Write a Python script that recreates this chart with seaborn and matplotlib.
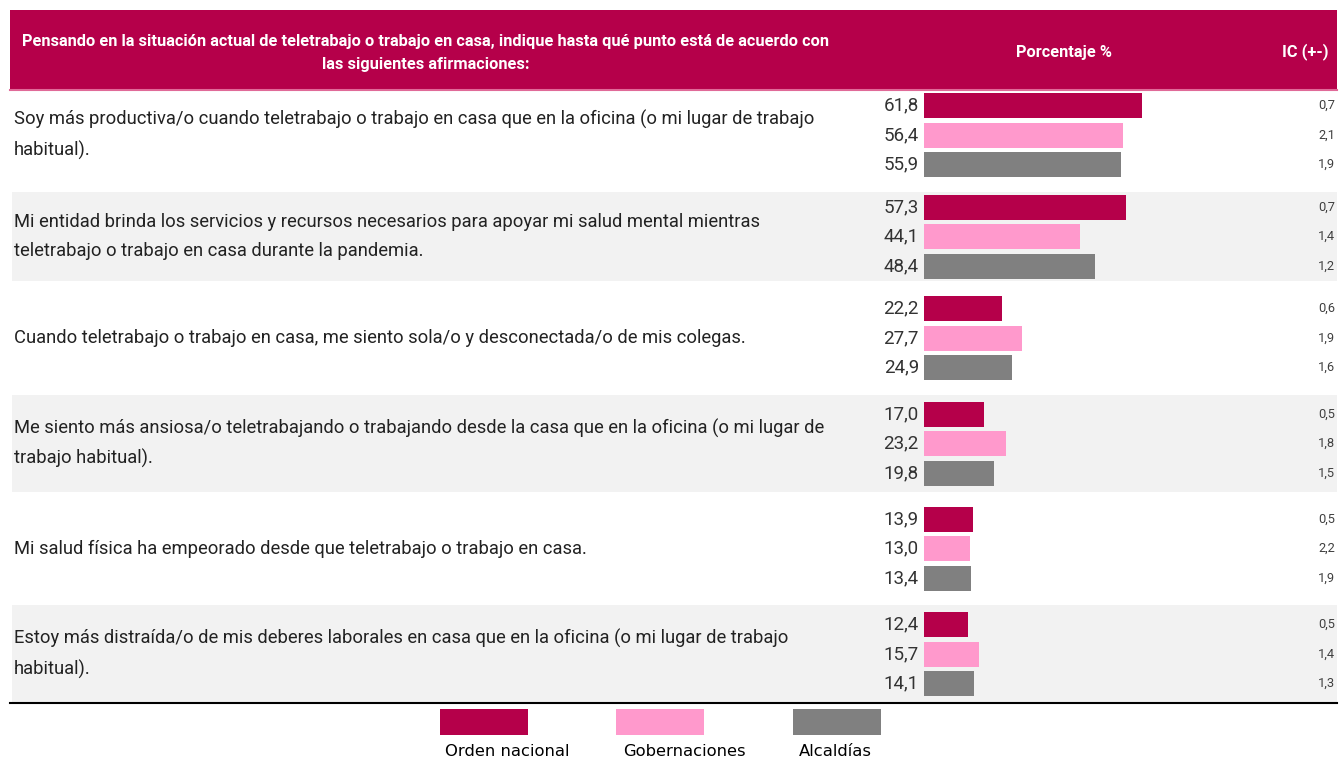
import matplotlib
matplotlib.use("Agg")
import matplotlib.pyplot as plt
import seaborn as sns
import pandas as pd
from matplotlib.patches import Rectangle

afirmaciones = [
    "Soy más productiva/o cuando teletrabajo o trabajo en casa que en la oficina (o mi lugar de trabajo\nhabitual).",
    "Mi entidad brinda los servicios y recursos necesarios para apoyar mi salud mental mientras\nteletrabajo o trabajo en casa durante la pandemia.",
    "Cuando teletrabajo o trabajo en casa, me siento sola/o y desconectada/o de mis colegas.",
    "Me siento más ansiosa/o teletrabajando o trabajando desde la casa que en la oficina (o mi lugar de\ntrabajo habitual).",
    "Mi salud física ha empeorado desde que teletrabajo o trabajo en casa.",
    "Estoy más distraída/o de mis deberes laborales en casa que en la oficina (o mi lugar de trabajo\nhabitual).",
]
series = ["Orden nacional", "Gobernaciones", "Alcaldías"]
orden_nacional = [61.8, 57.3, 22.2, 17.0, 13.9, 12.4]
gobernaciones = [56.4, 44.1, 27.7, 23.2, 13.0, 15.7]
alcaldias = [55.9, 48.4, 24.9, 19.8, 13.4, 14.1]
ic_orden_nacional = [0.7, 0.7, 0.6, 0.5, 0.5, 0.5]
ic_gobernaciones = [2.1, 1.4, 1.9, 1.8, 2.2, 1.4]
ic_alcaldias = [1.9, 1.2, 1.6, 1.5, 1.9, 1.3]

header_pregunta = ("Pensando en la situación actual de teletrabajo o trabajo en casa, indique hasta qué punto está de acuerdo con\n"
                   "las siguientes afirmaciones:")
header_pct = "Porcentaje %"
header_ic = "IC (+-)"

colors = ["#B5004A", "#FF99CC", "#808080"]
crimson = colors[0]

# layout (pixel canvas)
W, H = 1339, 757
band_edges = [90, 192, 281, 395, 492, 605, 702]
group_centres = [135, 236.5, 338, 443.5, 548.5, 654]
bar_x0 = 924
px_per_unit = 3.53
pitch = 29.5
bar_h = 25

plt.rcParams["font.family"] = ["Roboto", "DejaVu Sans"]

fig = plt.figure(figsize=(W / 100, H / 100), dpi=100)
renderer = fig.canvas.get_renderer()

bg = fig.add_axes([0, 0, 1, 1])
bg.set_xlim(0, W)
bg.set_ylim(H, 0)
bg.axis("off")


def fitted_size(sample, width, **kw):
    # font size for which `sample` is `width` pixels wide
    t = bg.text(0, 0, sample, fontsize=12, **kw)
    w = t.get_window_extent(renderer).width
    t.remove()
    return 12 * width / w


def spacing_for(size, gap, **kw):
    # linespacing giving `gap` pixels between two baselines
    a = bg.text(0, 0, "lp", fontsize=size, linespacing=1, **kw)
    b = bg.text(0, 0, "lp\nlp", fontsize=size, linespacing=1, **kw)
    d = b.get_window_extent(renderer).height - a.get_window_extent(renderer).height
    a.remove()
    b.remove()
    return gap / d


# header band
bg.add_patch(Rectangle((10, 10), W - 12, 80, color=crimson, lw=0))
bg.plot([10, W - 2], [89.5, 89.5], color="#E06A98", lw=1.5)
hsize = fitted_size(header_pregunta.split("\n")[0], 803, fontweight="bold")
bg.text(426, 53, header_pregunta, ha="center", va="center", color="white",
        fontsize=hsize, fontweight="bold",
        linespacing=spacing_for(hsize, 26, fontweight="bold"))
bg.text(1064, 52, header_pct, ha="center", va="center", color="white",
        fontsize=hsize, fontweight="bold")
bg.text(1329, 52, header_ic, ha="right", va="center", color="white",
        fontsize=hsize, fontweight="bold")

# alternating row bands
for i in range(len(afirmaciones)):
    top, bottom = band_edges[i], band_edges[i + 1]
    if i % 2 == 1:
        bg.add_patch(Rectangle((12, top), W - 14, bottom - top, color="#F2F2F2", lw=0))
bg.plot([10, W - 2], [band_edges[-1] + 0.5] * 2, color="black", lw=1.5)

# long format table for seaborn
values = [orden_nacional, gobernaciones, alcaldias]
ics = [ic_orden_nacional, ic_gobernaciones, ic_alcaldias]
rows = []
for i, c in enumerate(group_centres):
    for k, s in enumerate(series):
        rows.append({"pos": c + (k - 1) * pitch, "valor": values[k][i],
                     "ic": ics[k][i], "serie": s, "fila": i})
df = pd.DataFrame(rows)

ax = fig.add_axes([bar_x0 / W, 0, (W - bar_x0) / W, 1])
ax.patch.set_alpha(0)
sns.barplot(data=df, x="valor", y="pos", hue="serie", hue_order=series,
            palette=colors, orient="h", native_scale=True, dodge=False,
            width=bar_h / pitch, saturation=1, legend=False, ax=ax)
ax.set_xlim(0, (W - bar_x0) / px_per_unit)
ax.set_ylim(H, 0)
ax.axis("off")

# statement texts, one common size fitted on the first row
body_size = fitted_size(afirmaciones[0].split("\n")[0], 798)
body_ls = spacing_for(body_size, 32)
for i, txt in enumerate(afirmaciones):
    bg.text(14, group_centres[i], txt, ha="left", va="center", color="#222222",
            fontsize=body_size, linespacing=body_ls)

val_size = fitted_size("61,8", 35)
ic_size = fitted_size("0,7", 17)
for _, r in df.iterrows():
    bg.text(919, r["pos"], f"{r['valor']:.1f}".replace(".", ","), ha="right",
            va="center", color="#333333", fontsize=val_size)
    bg.text(1335, r["pos"], f"{r['ic']:.1f}".replace(".", ","), ha="right",
            va="center", color="#404040", fontsize=ic_size)

# legend: swatch above its label
legend_boxes = [440, 616, 793]
legend_text_x = [507, 684, 835]
for k, s in enumerate(series):
    bg.add_patch(Rectangle((legend_boxes[k], 709), 88, 26, color=colors[k], lw=0))
    bg.text(legend_text_x[k], 751, s, ha="center", va="center", color="black",
            fontsize=11.8, family="DejaVu Sans")

fig.savefig("out.png", dpi=100)
